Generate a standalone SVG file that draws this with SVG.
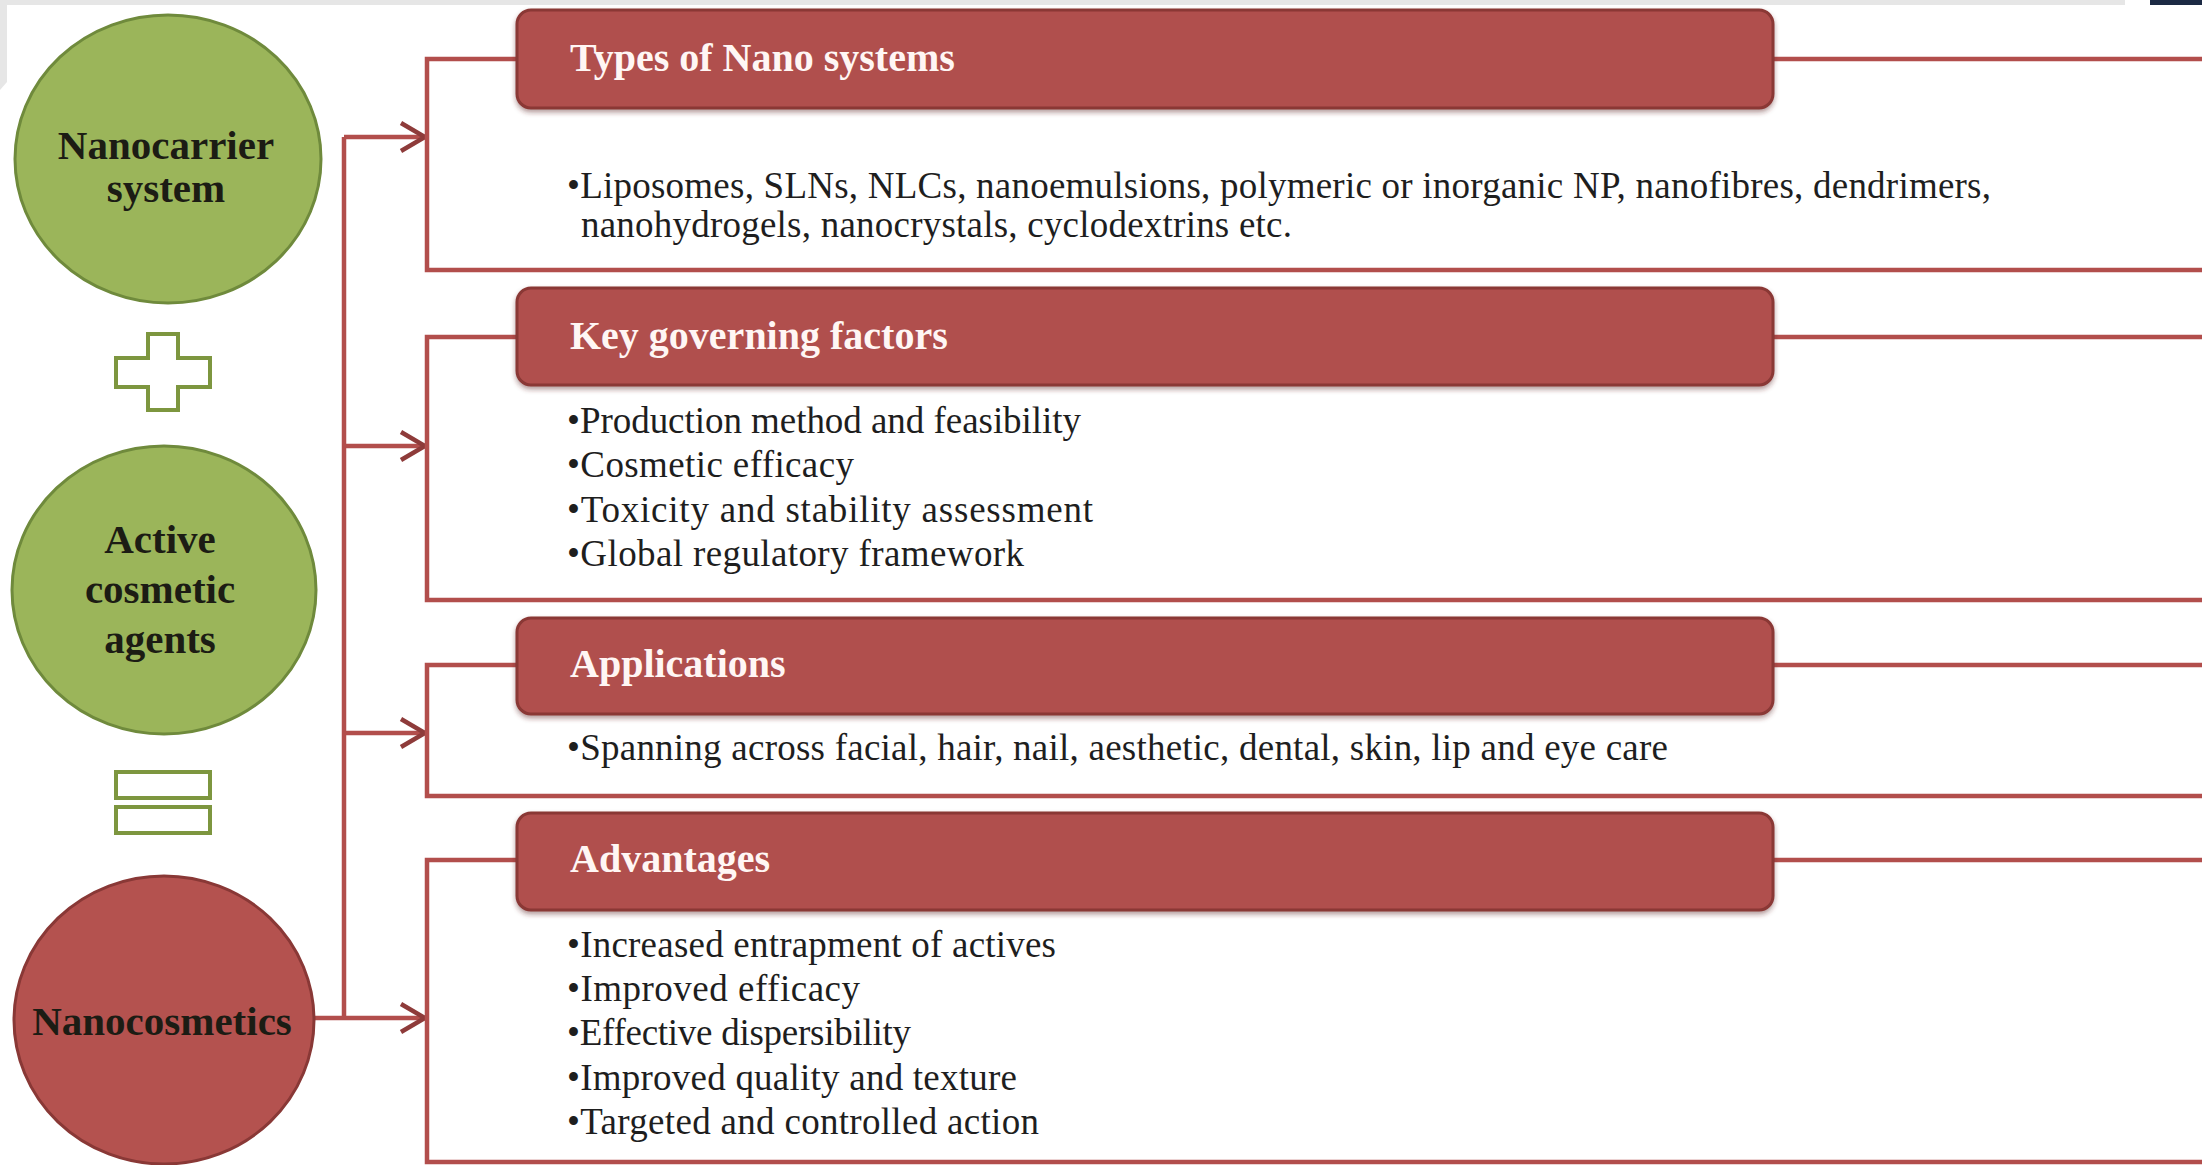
<svg xmlns="http://www.w3.org/2000/svg" width="2202" height="1165" viewBox="0 0 2202 1165">
<style>
.green{fill:#9bb55a;stroke:#6f8a3c;stroke-width:3}
.red{fill:#b4524f;stroke:#893836;stroke-width:3}
.sym{fill:#ffffff;stroke:#7d963f;stroke-width:4}
.ctext{font-family:"Liberation Serif","Times New Roman",serif;font-weight:bold;font-size:41px;fill:#1c1c14;text-anchor:middle}
.hbox{fill:#b0504d;stroke:#8a3735;stroke-width:3}
.htext{font-family:"Liberation Serif","Times New Roman",serif;font-weight:bold;font-size:40px;fill:#fff6f4}
.btext{font-family:"Liberation Serif","Times New Roman",serif;font-size:37px;fill:#1e1e1e}
.line{fill:none;stroke:#b24e4c;stroke-width:4.5}
</style>
<defs>
<marker id="arr" markerWidth="30" markerHeight="34" refX="27" refY="17" orient="auto" markerUnits="userSpaceOnUse">
<path d="M3,3 L27,17 L3,31" fill="none" stroke="#8e3b3a" stroke-width="4.5"/>
</marker>
<filter id="sh" x="-5%" y="-20%" width="110%" height="150%">
<feDropShadow dx="0" dy="3" stdDeviation="2.5" flood-color="#5a2020" flood-opacity="0.45"/>
</filter>
</defs>
<rect width="2202" height="1165" fill="#ffffff"/>
<rect x="0" y="0" width="2125" height="5" fill="#e6e6e6"/>
<path d="M0,0 L7,0 L7,82 L0,90 Z" fill="#e6e6e6"/>
<rect x="2150" y="0" width="52" height="5" fill="#1c2a44"/>

<g id="connectors">
<path class="line" d="M344,137 L344,1018"/>
<path class="line" d="M313,1018 L344,1018"/>
<path class="line" d="M344,137 L425,137" marker-end="url(#arr)"/>
<path class="line" d="M344,446 L425,446" marker-end="url(#arr)"/>
<path class="line" d="M344,733 L425,733" marker-end="url(#arr)"/>
<path class="line" d="M344,1018 L425,1018" marker-end="url(#arr)"/>
<path class="line" d="M517,59 L427,59 L427,270 L2202,270"/>
<path class="line" d="M1773,59 L2202,59"/>
<path class="line" d="M517,337 L427,337 L427,600 L2202,600"/>
<path class="line" d="M1773,337 L2202,337"/>
<path class="line" d="M517,665 L427,665 L427,796 L2202,796"/>
<path class="line" d="M1773,665 L2202,665"/>
<path class="line" d="M517,860 L427,860 L427,1162 L2202,1162"/>
<path class="line" d="M1773,860 L2202,860"/>
</g>

<g id="nanocarrier">
<ellipse class="green" cx="168" cy="159" rx="153" ry="144"/>
<text class="ctext" x="166" y="159">Nanocarrier</text>
<text class="ctext" x="166" y="202">system</text>
</g>
<g id="plus">
<path class="sym" d="M148,334 L178,334 L178,358 L210,358 L210,387 L178,387 L178,410 L148,410 L148,387 L116,387 L116,358 L148,358 Z"/>
</g>
<g id="active">
<ellipse class="green" cx="164" cy="590" rx="152" ry="144"/>
<text class="ctext" x="160" y="553">Active</text>
<text class="ctext" x="160" y="603">cosmetic</text>
<text class="ctext" x="160" y="653">agents</text>
</g>
<g id="equals">
<rect class="sym" x="116" y="772" width="94" height="26"/>
<rect class="sym" x="116" y="807" width="94" height="26"/>
</g>
<g id="nanocosmetics">
<ellipse class="red" cx="164" cy="1020" rx="150" ry="144"/>
<text class="ctext" x="162" y="1035">Nanocosmetics</text>
</g>

<g id="types">
<rect class="hbox" filter="url(#sh)" x="517" y="10" width="1256" height="98" rx="14"/>
<text class="htext" x="570" y="71">Types of Nano systems</text>
<text class="btext" x="567" y="198" textLength="1424">•Liposomes, SLNs, NLCs, nanoemulsions, polymeric or inorganic NP, nanofibres, dendrimers,</text>
<text class="btext" x="581" y="237" textLength="711">nanohydrogels, nanocrystals, cyclodextrins etc.</text>
</g>
<g id="factors">
<rect class="hbox" filter="url(#sh)" x="517" y="288" width="1256" height="97" rx="14"/>
<text class="htext" x="570" y="349">Key governing factors</text>
<text class="btext" x="567" y="433" textLength="514">•Production method and feasibility</text>
<text class="btext" x="567" y="477" textLength="287">•Cosmetic efficacy</text>
<text class="btext" x="567" y="522" textLength="526">•Toxicity and stability assessment</text>
<text class="btext" x="567" y="566" textLength="457">•Global regulatory framework</text>
</g>
<g id="applications">
<rect class="hbox" filter="url(#sh)" x="517" y="618" width="1256" height="96" rx="14"/>
<text class="htext" x="570" y="677">Applications</text>
<text class="btext" x="567" y="760" textLength="1101">•Spanning across facial, hair, nail, aesthetic, dental, skin, lip and eye care</text>
</g>
<g id="advantages">
<rect class="hbox" filter="url(#sh)" x="517" y="813" width="1256" height="97" rx="14"/>
<text class="htext" x="570" y="872">Advantages</text>
<text class="btext" x="567" y="957" textLength="489">•Increased entrapment of actives</text>
<text class="btext" x="567" y="1001" textLength="293">•Improved efficacy</text>
<text class="btext" x="567" y="1045" textLength="344">•Effective dispersibility</text>
<text class="btext" x="567" y="1090" textLength="450">•Improved quality and texture</text>
<text class="btext" x="567" y="1134" textLength="472">•Targeted and controlled action</text>
</g>
</svg>
